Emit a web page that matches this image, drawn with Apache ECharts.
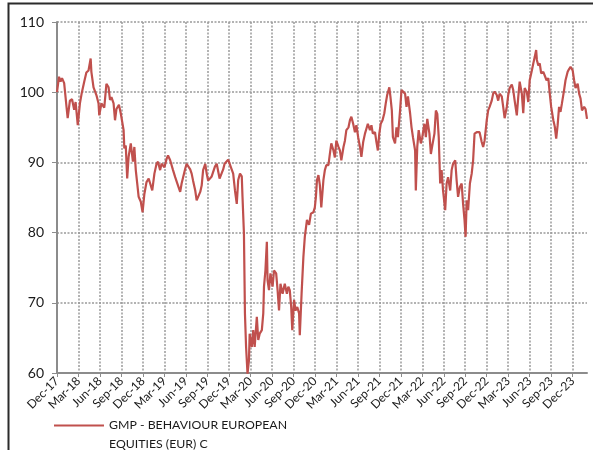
<!DOCTYPE html>
<html>
<head>
<meta charset="utf-8">
<script src="https://cdn.jsdelivr.net/npm/echarts@6/dist/echarts.min.js"></script>
<style>
html,body{margin:0;padding:0;background:#fff;}
#chart{width:593px;height:450px;}
</style>
</head>
<body>
<div id="chart"></div>
<script>
// Months elapsed since Dec-17 (0 = Dec-17, 3 = Mar-18, ...)
var monthOffsets = [
0,0.28,0.5,0.7,1.0,1.35,1.49,1.8,2.1,2.4,2.6,2.9,3.2,3.44,3.8,4.1,4.4,4.7,4.8,5.1,5.3,5.5,5.8,5.9,6.2,6.6,6.9,7.2,7.4,7.6,7.9,8.1,8.3,8.65,8.9,9.3,9.4,9.6,9.8,10.0,10.3,10.6,10.8,11.0,11.2,11.4,11.7,11.95,12.2,12.5,12.8,13.3,
13.6,13.9,14.1,14.4,14.6,15.0,15.3,15.5,15.8,16.2,16.5,16.9,17.2,17.4,17.9,18.1,18.6,18.8,19.0,19.3,19.5,20.0,20.2,20.4,20.7,20.9,21.1,21.6,22.05,22.3,22.7,23.2,23.4,23.9,24.1,
24.6,24.85,25.1,25.3,25.55,25.8,25.9,26.1,26.24,26.4,26.6,26.8,26.9,27.2,27.4,27.6,27.9,28.1,28.3,28.6,28.8,28.9,29.1,29.3,29.4,29.6,29.8,30.1,30.3,30.6,30.8,31.0,31.2,31.5,31.8,32.1,32.3,32.5,32.7,32.85,33.1,33.3,33.55,33.8,33.9,34.15,34.4,34.6,34.9,35.2,35.45,35.8,36.0,36.15,36.3,36.5,36.7,36.9,37.2,37.4,37.6,37.9,38.1,38.3,38.6,38.8,
39.0,39.3,39.5,39.7,40.0,40.2,40.4,40.7,40.9,41.1,41.35,41.6,41.8,42.05,42.3,42.5,42.75,43.0,43.2,43.4,43.7,43.9,44.1,44.4,44.6,44.8,45.0,45.2,45.45,45.7,45.9,46.1,46.4,46.55,46.75,46.9,47.2,47.4,47.6,47.9,48.1,48.3,48.6,48.8,49.0,49.3,49.5,49.7,50.0,50.1,50.3,50.5,50.8,
51.0,51.3,51.5,51.7,52.0,52.2,52.4,52.7,52.9,53.1,53.3,53.5,53.7,53.9,54.2,54.4,54.6,54.9,55.1,55.3,55.6,55.8,56.0,56.25,56.5,56.7,56.9,57.05,57.2,57.4,57.65,57.9,58.1,58.3,58.6,58.8,59.0,59.3,59.5,59.7,60.0,60.2,60.4,60.7,60.9,61.1,61.4,61.6,61.8,62.1,62.3,62.5,62.8,
63.0,63.2,63.5,63.7,63.9,64.2,64.4,64.6,64.9,65.1,65.3,65.6,65.8,66.0,66.3,66.5,66.7,66.9,67.0,67.2,67.4,67.6,67.9,68.1,68.35,68.6,68.8,69.0,69.3,69.5,69.7,69.9,70.1,70.3,70.5,70.8,71.0,71.3,71.5,71.7,72.0,72.2,72.4,72.7,72.9,73.1,73.3,73.6,73.8,74.0
];
var navValues = [
100.0,102.2,101.5,102.0,101.3,97.7,96.3,98.8,99.0,97.5,98.6,95.3,98.4,99.8,101.5,102.8,103.1,104.8,102.9,100.7,100.9,99.6,98.4,96.7,98.4,97.8,101.2,100.7,98.9,99.3,98.4,96.0,97.6,98.2,97.0,94.6,92.0,92.4,87.7,90.8,92.7,90.1,92.2,88.9,87.0,85.1,84.4,82.9,85.5,87.2,87.7,86.0,
88.4,89.8,90.1,88.9,89.8,89.3,90.5,91.0,90.3,88.9,87.9,86.7,85.8,87.0,89.1,89.8,89.0,88.4,87.4,86.0,84.6,85.8,86.7,88.9,89.8,88.4,87.4,88.0,89.4,89.8,87.7,89.0,89.8,90.4,90.5,
88.4,86.0,84.1,87.5,88.4,88.0,85.1,79.9,68.5,63.7,59.9,61.8,65.6,63.7,66.1,63.7,68.0,64.7,65.6,66.1,68.5,72.3,74.6,78.7,73.2,71.8,74.2,72.3,74.6,74.2,71.8,68.9,72.7,71.3,72.7,71.3,72.3,71.8,69.4,66.1,70.4,68.9,69.4,68.5,65.4,71.3,76.5,79.4,81.8,81.1,82.7,82.9,83.6,85.1,87.5,88.2,86.8,83.6,87.5,88.9,89.6,89.6,91.2,92.7,91.7,90.7,
93.1,92.2,91.7,90.3,92.2,93.1,94.6,95.0,96.0,96.5,95.5,94.3,95.3,93.6,92.2,90.8,92.9,94.1,94.8,95.5,94.6,95.3,94.1,94.3,92.9,91.7,94.1,95.5,96.0,97.0,98.4,99.6,100.7,99.4,97.4,93.6,92.7,95.0,93.6,97.4,100.3,100.5,99.8,97.9,99.4,97.0,95.0,93.6,91.7,86.0,92.2,94.6,92.7,
93.6,95.5,93.6,96.2,94.1,91.2,92.4,94.1,97.4,96.9,93.6,87.0,88.9,86.0,83.2,87.0,87.9,86.0,88.9,89.8,90.3,87.4,85.1,86.5,87.0,84.1,81.8,79.4,84.6,83.2,87.0,88.4,90.3,94.1,94.3,94.1,94.3,92.9,92.2,93.1,96.0,97.4,97.9,98.8,99.8,100.1,99.6,98.8,99.8,99.4,97.9,96.3,97.9,
99.6,100.6,101.1,100.3,98.8,96.7,99.3,101.5,99.8,97.0,100.6,100.0,98.6,101.7,103.1,104.1,105.0,106.0,104.6,103.8,104.1,102.7,102.9,102.7,101.7,102.0,99.8,97.9,96.0,95.1,93.4,95.3,97.9,97.2,98.4,100.3,101.7,102.9,103.3,103.6,103.1,101.7,100.6,101.2,99.8,99.1,97.4,97.9,97.6,96.2
];
var tickLabels = ['Dec-17','Mar-18','Jun-18','Sep-18','Dec-18','Mar-19','Jun-19','Sep-19','Dec-19','Mar-20','Jun-20','Sep-20','Dec-20','Mar-21','Jun-21','Sep-21','Dec-21','Mar-22','Jun-22','Sep-22','Dec-22','Mar-23','Jun-23','Sep-23','Dec-23'];
var seriesName = 'GMP - BEHAVIOUR EUROPEAN\nEQUITIES (EUR) C';

var points = monthOffsets.map(function(m, i){ return [m, navValues[i]]; });

var chart = echarts.init(document.getElementById('chart'), null, {renderer:'canvas'});
var FONT = 'Lato';
chart.setOption({
  animation: false,
  backgroundColor: '#ffffff',
  graphic: [{
    type: 'rect', silent: true, z: 100,
    shape: {x: 8.5, y: 3.5, width: 700, height: 600},
    style: {fill: 'none', stroke: '#2b2b2b', lineWidth: 2}
  }],
  grid: {left: 57, right: 6, top: 22, bottom: 77, containLabel: false},
  legend: {
    left: 54, top: 416, padding: 0,
    itemWidth: 50, itemHeight: 38,
    icon: 'path://M0,8.6H50V10.6H0Z M0,0H0.01V0.01H0Z M0,38H0.01V38.01H0Z',
    itemStyle: {color: '#c0504d', borderWidth: 0},
    data: [seriesName],
    textStyle: {fontFamily: FONT, fontSize: 12.3, color: '#1a1a1a', lineHeight: 19}
  },
  xAxis: {
    type: 'value', min: 0, max: 74, interval: 3,
    axisLine: {show: true, lineStyle: {color: '#8c8c8c', width: 2}},
    axisTick: {show: true, length: 4, inside: false, lineStyle: {color: '#8c8c8c', width: 1}},
    axisLabel: {
      rotate: 45, margin: 6, fontFamily: FONT, fontSize: 12, color: '#1a1a1a',
      showMaxLabel: false,
      formatter: function(v){ return (v % 3 === 0 && tickLabels[v/3]) ? tickLabels[v/3] : ''; }
    },
    splitLine: {show: true, showMinLine: false, showMaxLine: false, lineStyle: {color: '#9a9a9a', width: 1.5, type: [2, 1.5]}}
  },
  yAxis: {
    type: 'value', min: 60, max: 110, interval: 10,
    axisLine: {show: true, lineStyle: {color: '#8c8c8c', width: 2}},
    axisTick: {show: true, length: 5, inside: false, lineStyle: {color: '#8c8c8c', width: 1}},
    axisLabel: {margin: 13, fontFamily: FONT, fontSize: 14, color: '#1a1a1a'},
    splitLine: {show: true, lineStyle: {color: '#9a9a9a', width: 1.5, type: [2, 1.5]}}
  },
  series: [{
    name: seriesName,
    type: 'line',
    data: points,
    symbol: 'none',
    showSymbol: false,
    lineStyle: {color: '#c0504d', width: 2.2},
    itemStyle: {color: '#c0504d'}
  }]
});
</script>
</body>
</html>
